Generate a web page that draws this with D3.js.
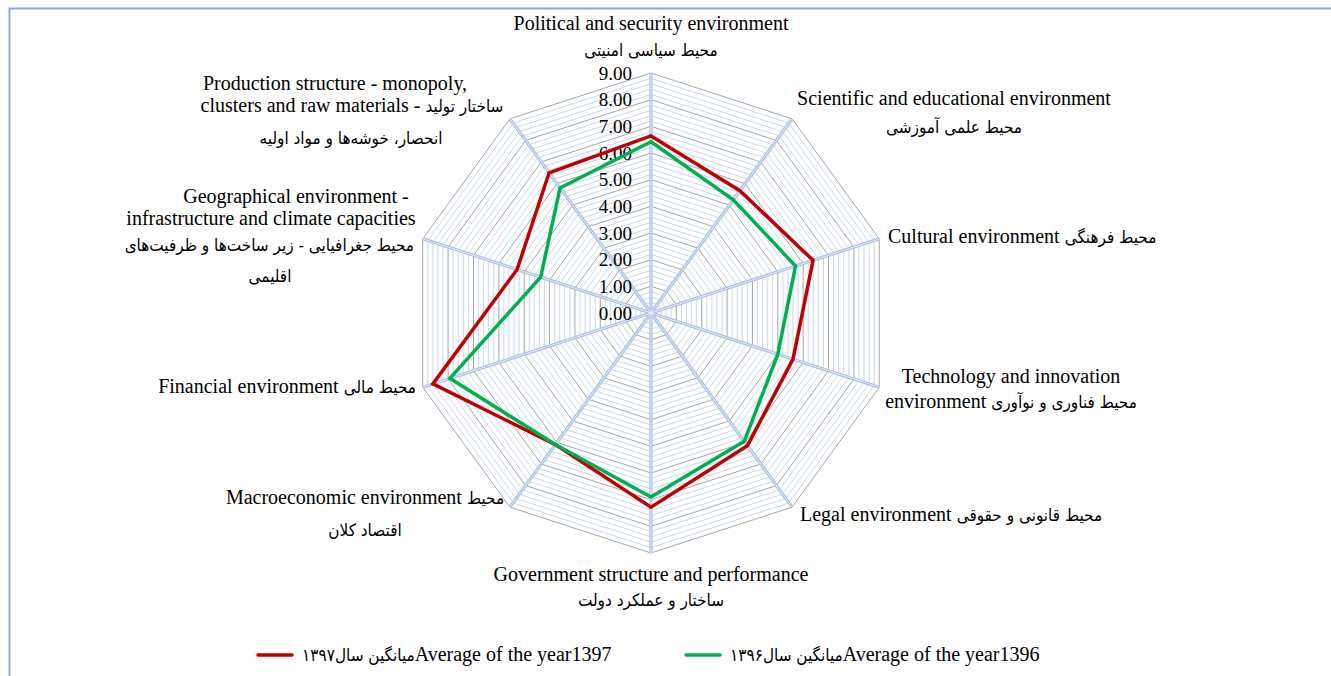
<!DOCTYPE html>
<meta charset="utf-8">
<style>
  body { margin: 0; background: #fff; }
  svg { display: block; }
  .txt { font-family: "Liberation Serif", serif; font-size: 20px; fill: #000; }
  .txt tspan.fa { font-family: "DejaVu Sans Condensed", "DejaVu Sans", sans-serif; font-size: 17px; }
  .ticks text { font-family: "Liberation Serif", serif; font-size: 19px; fill: #000; }
</style>
<svg width="1331" height="676"></svg>
<script src="https://cdn.jsdelivr.net/npm/d3@7"></script>
<script>

    // categories, clockwise from the top
    var categories = [
        "Political and security environment",
        "Scientific and educational environment",
        "Cultural environment",
        "Technology and innovation environment",
        "Legal environment",
        "Government structure and performance",
        "Macroeconomic environment",
        "Financial environment",
        "Geographical environment",
        "Production structure"
    ];

    // values
    var year1397 = [6.64, 5.67, 6.39, 5.60, 6.15, 7.28, 6.10, 8.60, 5.28, 6.50];
    var year1396 = [6.42, 5.25, 5.70, 5.00, 5.95, 6.90, 6.10, 7.93, 4.35, 5.80];

    var tickValues = [0, 1, 2, 3, 4, 5, 6, 7, 8, 9];

    var seriesNames = [
        "میانگین سال۱۳۹۷Average of the year1397",
        "میانگین سال۱۳۹۶Average of the year1396"
    ];

    // label text, one array of lines per category
    var labelLines = [
        ["Political and security environment", "محیط سیاسی امنیتی"],
        ["Scientific and educational environment", "محیط علمی آموزشی"],
        ["Cultural environment محیط فرهنگی"],
        ["Technology and innovation", "environment محیط فناوری و نوآوری"],
        ["Legal environment محیط قانونی و حقوقی"],
        ["Government structure and performance", "ساختار و عملکرد دولت"],
        ["Macroeconomic environment  محیط", "اقتصاد کلان"],
        ["Financial environment محیط مالی"],
        ["Geographical environment -", "infrastructure and climate capacities",
         "محیط جغرافیایی - زیر ساخت‌ها و ظرفیت‌های", "اقلیمی"],
        ["Production structure - monopoly,", "clusters and raw materials  - ساختار تولید",
         "انحصار، خوشه‌ها و مواد اولیه"]
    ];

    var svg = d3.select("svg"),
        cx = 651, cy = 313;

    // chart frame
    svg.append("rect")
        .attr("x", 9.5).attr("y", 8.5)
        .attr("width", 1400).attr("height", 700)
        .attr("fill", "none")
        .attr("stroke", "#8faadc")
        .attr("stroke-width", 2);

    var r = d3.scaleLinear().domain([0, 9]).range([0, 240]);
    var angle = d3.scaleLinear().domain([0, categories.length]).range([0, 2 * Math.PI]);

    function px(i, v) { return cx + r(v) * Math.sin(angle(i)); }
    function py(i, v) { return cy - r(v) * Math.cos(angle(i)); }

    function ringPoints(v) {
        return categories.map(function(c, i) { return [px(i, v), py(i, v)]; });
    }

    var line = d3.line().curve(d3.curveLinearClosed);

    var grid = svg.append("g").attr("class", "grid");

    // minor rings every 0.2
    var minor = d3.range(0.2, 9, 0.2).filter(function(v) { return Math.abs(v - Math.round(v)) > 0.01; });
    grid.selectAll("path.minor")
        .data(minor)
        .enter().append("path")
        .attr("class", "minor")
        .attr("d", function(v) { return line(ringPoints(v)); })
        .attr("fill", "none")
        .attr("stroke", "#c9d8f0")
        .attr("stroke-width", 1);

    // major rings
    grid.selectAll("path.major")
        .data(tickValues.slice(1))
        .enter().append("path")
        .attr("class", "major")
        .attr("d", function(v) { return line(ringPoints(v)); })
        .attr("fill", "none")
        .attr("stroke", "#a6a6a6")
        .attr("stroke-width", 1);

    // spokes
    grid.selectAll("line.spoke")
        .data(categories)
        .enter().append("line")
        .attr("class", "spoke")
        .attr("x1", cx).attr("y1", cy)
        .attr("x2", function(d, i) { return px(i, 9); })
        .attr("y2", function(d, i) { return py(i, 9); })
        .attr("stroke", "#a9bfe6")
        .attr("stroke-width", 3.2);
    grid.selectAll("line.spokein")
        .data(categories)
        .enter().append("line")
        .attr("class", "spokein")
        .attr("x1", cx).attr("y1", cy)
        .attr("x2", function(d, i) { return px(i, 9); })
        .attr("y2", function(d, i) { return py(i, 9); })
        .attr("stroke", "#e4ecf8")
        .attr("stroke-width", 1);

    // tick labels on the top spoke
    svg.append("g").attr("class", "ticks")
        .selectAll("text")
        .data(tickValues)
        .enter().append("text")
        .attr("x", cx - 19)
        .attr("y", function(v) { return cy - r(v); })
        .attr("dy", "0.35em")
        .attr("text-anchor", "end")
        .text(function(v) { return d3.format(".2f")(v); });

    // series
    var series = [
        { name: seriesNames[0], values: year1397, color: "#c00000" },
        { name: seriesNames[1], values: year1396, color: "#00b050" }
    ];

    svg.append("g").attr("class", "series")
        .selectAll("path")
        .data(series)
        .enter().append("path")
        .attr("d", function(s) {
            return line(s.values.map(function(v, i) { return [px(i, v), py(i, v)]; }));
        })
        .attr("fill", "none")
        .attr("stroke", function(s) { return s.color; })
        .attr("stroke-width", 3.5)
        .attr("stroke-linejoin", "miter");

    // write a line, splitting Persian runs into their own tspans
    var faRun = /([\u0600-\u06FF\u200C][\u0600-\u06FF\u200C\s\-]*)/;
    function writeText(sel, str) {
        str.split(faRun).filter(function(s) { return s.length; }).forEach(function(s) {
            sel.append("tspan")
                .attr("class", /[\u0600-\u06FF]/.test(s) ? "fa" : null)
                .text(s);
        });
    }

    // label placement: per line [x, y centre, anchor]
    var labelPos = [
        [[651, 24, "middle"], [651, 50, "middle"]],
        [[954, 99, "middle"], [954, 127, "middle"]],
        [[888, 237, "start"]],
        [[1011, 377, "middle"], [1011, 402, "middle"]],
        [[800, 515, "start"]],
        [[651, 575, "middle"], [651, 600, "middle"]],
        [[365, 498, "middle"], [365, 530, "middle"]],
        [[416, 387, "end"]],
        [[296, 197, "middle"], [271, 219, "middle"], [414, 245, "end"], [270, 276, "middle"]],
        [[335, 84, "middle"], [352, 106, "middle"], [351, 138, "middle"]]
    ];

    var labels = svg.append("g").attr("class", "label");
    labelLines.forEach(function(lines, i) {
        lines.forEach(function(l, j) {
            var p = labelPos[i][j];
            var t = labels.append("text")
                .attr("class", "txt")
                .attr("x", p[0])
                .attr("y", p[1] + 6)
                .attr("text-anchor", p[2]);
            writeText(t, l);
        });
    });

    // legend
    var legend = svg.append("g").attr("class", "legend")
        .selectAll("g")
        .data(series)
        .enter().append("g")
        .attr("transform", function(s, i) { return "translate(" + (258 + i * 428) + ",655)"; });
    legend.append("line")
        .attr("x1", 0).attr("x2", 34)
        .attr("stroke", function(s) { return s.color; })
        .attr("stroke-width", 3.5)
        .attr("stroke-linecap", "round");
    legend.append("text")
        .attr("class", "txt")
        .attr("x", 44).attr("y", 6)
        .each(function(s) { writeText(d3.select(this), s.name); });

</script>
